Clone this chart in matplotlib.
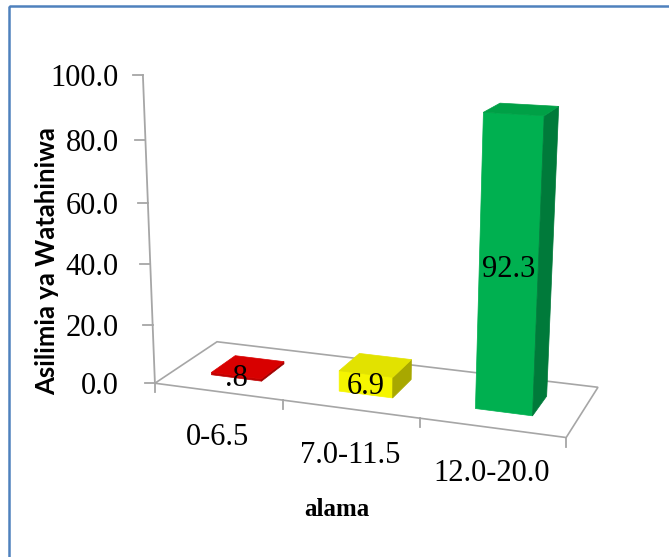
import numpy as np
import matplotlib.pyplot as plt
from matplotlib.patches import Polygon, Rectangle

# === Data ===
categories = ["0-6.5", "7.0-11.5", "12.0-20.0"]
values = [0.8, 6.9, 92.3]
value_labels = [".8", "6.9", "92.3"]
y_ticks = [0, 20, 40, 60, 80, 100]
y_tick_labels = ["0.0", "20.0", "40.0", "60.0", "80.0", "100.0"]
y_title = "Asilimia ya Watahiniwa"
x_title = "alama"

COLORS = {
    "frame": "#4F81BD",
    "grid": "#A6A6A6",
    "text": "#000000",
    "bars": [
        # front, side, top
        ("#C00000", "#A00000", "#D80000"),
        ("#F5F500", "#A8A800", "#E2E200"),
        ("#00B050", "#007A3A", "#00A046"),
    ],
}

W, H = 669, 557
SERIF = "Liberation Serif"

# camera anchors: world (category pos, value, depth) -> canvas pixel
ANCHORS = [
    ((0, 0, 0), (155, 383)),
    ((1, 0, 0), (283, 400)),
    ((2, 0, 0), (420, 418)),
    ((3, 0, 0), (566, 438)),
    ((3, 0, 1), (598, 387)),
    ((0, 0, 1), (217, 342)),
    ((0, 20, 0), (152.6, 325)),
    ((0, 40, 0), (150.2, 264)),
    ((0, 60, 0), (147.8, 203)),
    ((0, 80, 0), (145.4, 140)),
    ((0, 100, 0), (143, 75)),
]


def fit_camera(anchors):
    rows = []
    for (X, Y, Z), (u, v) in anchors:
        p = [X, Y, Z, 1.0]
        rows.append(p + [0.0] * 4 + [-u * c for c in p])
        rows.append([0.0] * 4 + p + [-v * c for c in p])
    _, _, vt = np.linalg.svd(np.array(rows, float))
    return vt[-1].reshape(3, 4)


CAM = fit_camera(ANCHORS)


def proj(X, Y, Z):
    h = CAM @ np.array([X, Y, Z, 1.0])
    return h[0] / h[2], h[1] / h[2]


def face(ax, pts, color, zorder=3):
    ax.add_patch(Polygon([proj(*p) for p in pts], closed=True,
                         facecolor=color, edgecolor=color, lw=0.5, zorder=zorder))


def draw_box(ax, x0, x1, z0, z1, top, colors):
    front, side, topc = colors
    face(ax, [(x0, 0, z0), (x1, 0, z0), (x1, top, z0), (x0, top, z0)], front)
    face(ax, [(x1, 0, z0), (x1, 0, z1), (x1, top, z1), (x1, top, z0)], side)
    face(ax, [(x0, top, z0), (x1, top, z0), (x1, top, z1), (x0, top, z1)], topc)


fig = plt.figure(figsize=(W / 100, H / 100), dpi=100, facecolor="white")
ax = fig.add_axes([0, 0, 1, 1])
ax.set_xlim(0, W)
ax.set_ylim(H, 0)
ax.axis("off")

# outer chart border (runs off the right/bottom edge)
ax.add_patch(Rectangle((9, 6), W + 20, H + 20, fill=False,
                       edgecolor=COLORS["frame"], lw=1.8, zorder=1))

n = len(categories)

# floor outline
floor = [proj(0, 0, 0), proj(n, 0, 0), proj(n, 0, 1), proj(0, 0, 1)]
ax.add_patch(Polygon(floor, closed=True, fill=False,
                     edgecolor=COLORS["grid"], lw=1.2, zorder=2))

# vertical axis + ticks
ax.plot(*zip(proj(0, 0, 0), proj(0, max(y_ticks), 0)), color=COLORS["grid"], lw=1.3, zorder=2)
for t, lab in zip(y_ticks, y_tick_labels):
    px, py = proj(0, t, 0)
    ax.plot([px - 10, px], [py, py], color=COLORS["grid"], lw=1.3, zorder=2)
    ax.text(119, py, lab, ha="right", va="center_baseline", fontsize=22,
            family=SERIF, color=COLORS["text"])

# category ticks along the front edge
for i in range(n + 1):
    px, py = proj(i, 0, 0)
    ax.plot([px, px], [py, py + 9], color=COLORS["grid"], lw=1.3, zorder=2)

for i, cat in enumerate(categories):
    px, py = proj(i + 0.5, 0, 0)
    ax.text(px, py + 46, cat, ha="center", va="center", fontsize=22,
            family=SERIF, color=COLORS["text"])

# bars
gap = 0.3
for i, (v, lab) in enumerate(zip(values, value_labels)):
    draw_box(ax, i + gap, i + 1 - gap, gap, 1 - gap, v, COLORS["bars"][i])
    px, py = proj(i + 0.5, v / 2, gap)
    ax.text(px, py + 2, lab, ha="center", va="center", fontsize=22,
            family=SERIF, color=COLORS["text"], zorder=5)

# axis titles
ax.text(47, 261, y_title, rotation=90, ha="center", va="center",
        fontsize=18.5, fontweight="bold", family="Lato", color=COLORS["text"])
ax.text(337, 510, x_title, ha="center", va="center", fontsize=18,
        fontweight="bold", family=SERIF, color=COLORS["text"])

fig.savefig("out.png", dpi=100)
